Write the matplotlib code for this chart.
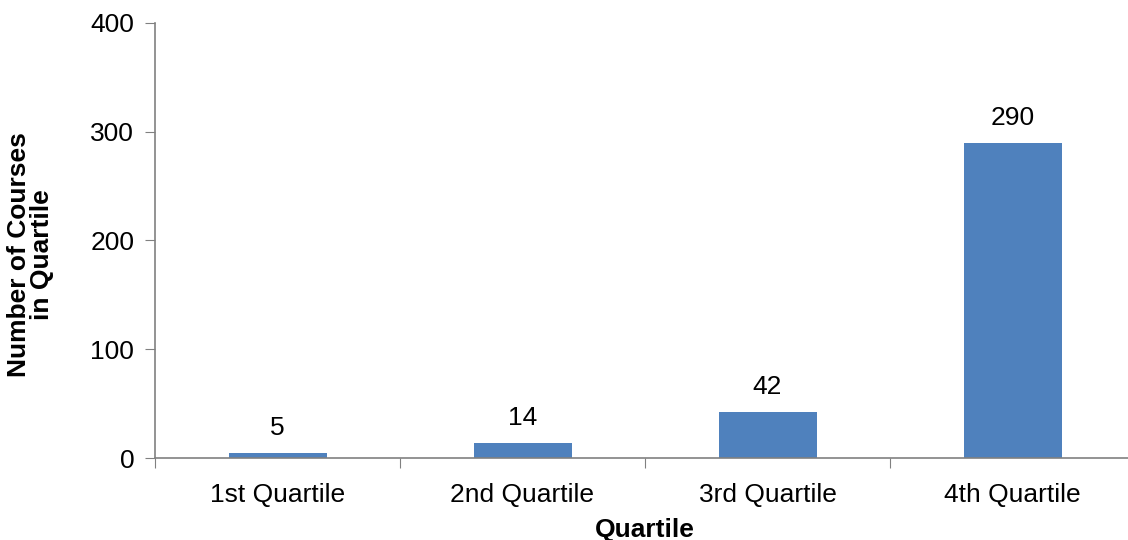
import matplotlib.pyplot as plt
import numpy as np

plt.rcParams['font.family'] = ['Liberation Sans', 'DejaVu Sans']

categories = ["1st Quartile", "2nd Quartile", "3rd Quartile", "4th Quartile"]
counts = [5, 14, 42, 290]
y_ticks = [0, 100, 200, 300, 400]

fig = plt.figure(figsize=(11.28, 5.4), dpi=100)
ax = fig.add_axes([155 / 1128, 82 / 540, 980 / 1128, 435 / 540])

x = np.arange(len(categories))
bars = ax.bar(x, counts, width=0.4, color="#4F81BD", zorder=2)
for b, v in zip(bars, counts):
    ax.text(b.get_x() + b.get_width() / 2, v + 12, str(v),
            ha="center", va="bottom", fontsize=19)

ax.set_xlim(-0.5, len(categories) - 0.5)
ax.set_ylim(0, 400)
ax.set_yticks(y_ticks)

# category labels in the middle, tick marks at the boundaries
ax.set_xticks(np.arange(len(categories) + 1) - 0.5)
ax.set_xticklabels([])
ax.set_xticks(x, minor=True)
ax.set_xticklabels(categories, minor=True)
ax.tick_params(axis="x", which="minor", length=0, pad=18, labelsize=19)
ax.tick_params(axis="x", which="major", length=7, color="#808080")
ax.tick_params(axis="y", length=7, color="#808080", labelsize=19, pad=8)

for side in ["top", "right"]:
    ax.spines[side].set_visible(False)
for side in ["left", "bottom"]:
    ax.spines[side].set_color("#808080")
    ax.spines[side].set_linewidth(1.2)

ax.set_xlabel("Quartile", fontsize=19, fontweight="bold", labelpad=8)
ax.set_ylabel("Number of Courses\nin Quartile", fontsize=19, fontweight="bold",
              linespacing=0.95)
ax.yaxis.set_label_coords(-0.103, 0.467)

fig.savefig("out.png", dpi=100)
